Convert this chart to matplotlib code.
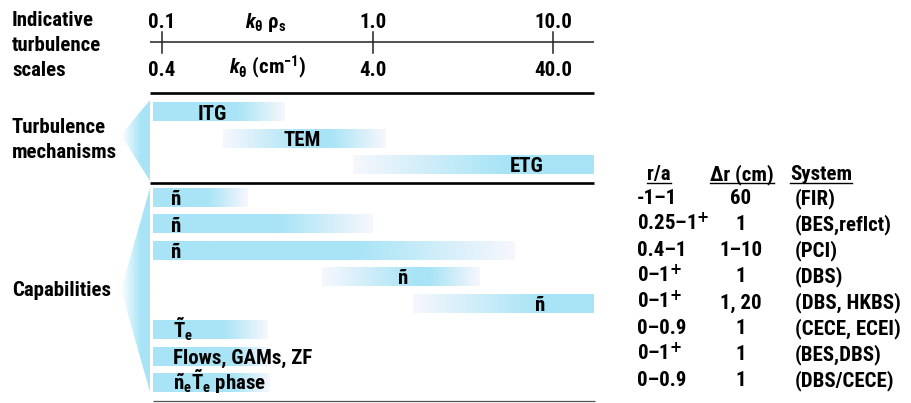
import numpy as np
import matplotlib
matplotlib.use('Agg')
import matplotlib.pyplot as plt
from matplotlib.patches import Polygon

FONT = 'Roboto Condensed'
plt.rcParams['font.family'] = [FONT, 'Liberation Sans', 'DejaVu Sans']
plt.rcParams['font.weight'] = 'bold'
plt.rcParams['mathtext.fontset'] = 'custom'
plt.rcParams['mathtext.rm'] = FONT + ':bold'
plt.rcParams['mathtext.it'] = FONT + ':italic:bold'
plt.rcParams['mathtext.bf'] = FONT + ':bold'
plt.rcParams['mathtext.sf'] = 'DejaVu Sans:bold'
plt.rcParams['mathtext.default'] = 'rm'

BLUE = np.array([168, 228, 246]) / 255
FAINT = np.array([247, 247, 253]) / 255
FS = 15

# scale axis (positions along the drawing, left to right)
tickPos = [162, 373, 553]
kRhoLabels = ['0.1', '1.0', '10.0']
kCmLabels = ['0.4', '4.0', '40.0']

# turbulence mechanisms: fade-in start, solid start, solid end, fade-out end
mechNames = ['ITG', 'TEM', 'ETG']
mechStart = [153, 223, 353]
mechSolidStart = [153, 305, 503]
mechSolidEnd = [237, 330, 594]
mechEnd = [285, 386, 594]
mechLabelX = [212, 302, 527]

# capabilities
capLabels = ['ñ', 'ñ', 'ñ', 'ñ', 'ñ', r'$\tilde{T}_e$', 'Flows, GAMs, ZF',
             r'$\tilde{n}_e\tilde{T}_e$ phase']
capStart = [153, 153, 153, 322, 413, 153, 153, 153]
capSolidStart = [153, 153, 153, 415, 540, 153, 153, 153]
capSolidEnd = [208, 280, 357, 430, 594, 223, 233, 233]
capEnd = [248, 373, 515, 480, 594, 268, 270, 270]
capLabelX = [176, 176, 176, 403, 540, 173, 173, 173]
capLabelHa = ['center'] * 5 + ['left'] * 3

# table
plus = r'$^{\mathsf{+}}$'
rRange = ['-1–1', '0.25–1' + plus, '0.4–1', '0–1' + plus, '0–1' + plus, '0–0.9', '0–1' + plus, '0–0.9']
deltaR = ['60', '1', '1–10', '1', '1, 20', '1', '1', '1']
system = ['(FIR)', '(BES,reflct)', '(PCI)', '(DBS)', '(DBS, HKBS)', '(CECE, ECEI)',
          '(BES,DBS)', '(DBS/CECE)']


def gradBar(ax, x0, s0, s1, x1, yc, h=19):
    xs = np.linspace(x0, x1, 400)
    t = np.ones_like(xs)
    if s0 > x0:
        t = np.minimum(t, (xs - x0) / (s0 - x0))
    if x1 > s1:
        t = np.minimum(t, (x1 - xs) / (x1 - s1))
    t = np.clip(t, 0, 1)[:, None]
    img = (FAINT * (1 - t) + BLUE * t)[None, :, :]
    ax.imshow(img, extent=(x0, x1, yc + h / 2, yc - h / 2), aspect='auto',
              interpolation='bilinear', zorder=1)


def wedge(ax, apexX, apexY, rightX, topY, botY):
    xs = np.linspace(apexX, rightX, 200)
    t = np.clip((xs - apexX) / (rightX - 9 - apexX), 0, 1)[:, None]
    img = (np.ones(3) * (1 - t) + BLUE * t)[None, :, :]
    im = ax.imshow(img, extent=(apexX, rightX, botY, topY), aspect='auto',
                   interpolation='bilinear', zorder=1)
    poly = Polygon([[apexX, apexY], [rightX, topY], [rightX, botY]], closed=True,
                   transform=ax.transData, fc='none', ec='none')
    ax.add_patch(poly)
    im.set_clip_path(poly)


fig = plt.figure(figsize=(9.12, 4.03), dpi=100)
ax = fig.add_axes([0, 0, 1, 1])

# left labels
ax.text(12, 11, 'Indicative\nturbulence\nscales', fontsize=FS, va='top', ha='left', linespacing=1.4)
ax.text(12, 140, 'Turbulence\nmechanisms', fontsize=FS, va='center', ha='left', linespacing=1.4)
ax.text(12, 290, 'Capabilities', fontsize=FS, va='center', ha='left')

# scale axis
ax.plot([150, 594], [42, 42], color='#222222', lw=1.1, solid_capstyle='butt')
for p, top, bot in zip(tickPos, kRhoLabels, kCmLabels):
    ax.plot([p, p], [32, 53], color='#222222', lw=1.1)
    ax.text(p, 28, top, fontsize=FS, ha='center', va='baseline')
    ax.text(p, 76, bot, fontsize=FS, ha='center', va='baseline')
ax.text(266, 28, r'$\mathit{k}_{\theta}\ \rho_{\mathrm{s}}$', fontsize=FS, ha='center', va='baseline')
ax.text(268, 74, r'$\mathit{k}_{\theta}$ (cm$^{-1}$)', fontsize=FS, ha='center', va='baseline')

# section rules
ax.plot([150, 594], [93, 93], color='black', lw=1.9, solid_capstyle='butt')
ax.plot([150, 594], [183, 183], color='black', lw=1.9, solid_capstyle='butt')
ax.plot([153, 595], [401, 401], color='#555555', lw=0.9, solid_capstyle='butt')

# wedges
wedge(ax, 121, 135, 150, 100, 181)
wedge(ax, 121, 290, 150, 188, 392)

# mechanisms
for i, name in enumerate(mechNames):
    yc = 112 + 26.5 * i
    gradBar(ax, mechStart[i], mechSolidStart[i], mechSolidEnd[i], mechEnd[i], yc)
    ax.text(mechLabelX[i], yc + 7.5, name, fontsize=FS, ha='center', va='baseline', zorder=3)

# capabilities
for i, lab in enumerate(capLabels):
    yc = 197.5 + 26.5 * i
    gradBar(ax, capStart[i], capSolidStart[i], capSolidEnd[i], capEnd[i], yc)
    ax.text(capLabelX[i], yc + 7.5, lab, fontsize=FS, ha=capLabelHa[i], va='baseline', zorder=3)

# table
headers = [ax.text(659, 180, 'r/a', fontsize=FS, ha='center', va='baseline'),
           ax.text(742, 180, 'Δr (cm)', fontsize=FS, ha='center', va='baseline'),
           ax.text(790, 180, 'System', fontsize=FS, ha='left', va='baseline')]
for i in range(len(rRange)):
    yb = 197 + 26 * i + 7.5
    ax.text(637, yb, rRange[i], fontsize=FS, ha='left', va='baseline')
    ax.text(741, yb, deltaR[i], fontsize=FS, ha='center', va='baseline')
    ax.text(795, yb, system[i], fontsize=FS, ha='left', va='baseline')

ax.set_xlim(0, 912)
ax.set_ylim(403, 0)
ax.axis('off')

# underline the headers
fig.canvas.draw()
inv = ax.transData.inverted()
for h in headers:
    bb = h.get_window_extent()
    (x0, _), (x1, _) = inv.transform([[bb.x0, bb.y0], [bb.x1, bb.y1]])
    ax.plot([x0, x1], [183, 183], color='black', lw=1.0)

fig.savefig('out.png', dpi=100)
